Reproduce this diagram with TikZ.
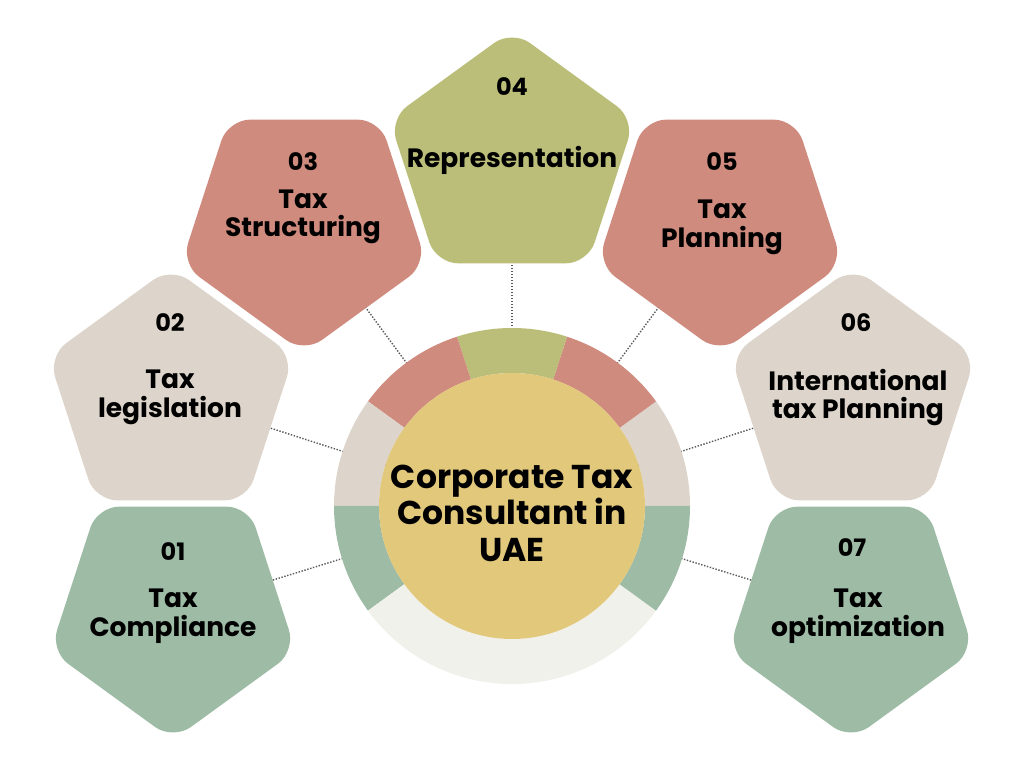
\documentclass[tikz,border=0pt]{standalone}
\usepackage{fontspec}
\setmainfont{Poppins}
\usetikzlibrary{shapes.geometric,backgrounds}
\definecolor{cgreen}{HTML}{9DBBA5}
\definecolor{cbeige}{HTML}{DDD5CB}
\definecolor{cred}{HTML}{D08B7F}
\definecolor{colive}{HTML}{BBBE78}
\definecolor{clight}{HTML}{F0F1EA}
\definecolor{cyellow}{HTML}{E2C87B}
\begin{document}
\begin{tikzpicture}[x=1pt,y=1pt,
  pent/.style={regular polygon, regular polygon sides=5, minimum size=258pt, inner sep=0pt, rounded corners=22pt, draw=none},
  pentdown/.style={pent, shape border rotate=180},
  conn/.style={line width=1.4pt, dash pattern=on 1.4pt off 1.6pt, color=black!65},
  num/.style={font=\fontsize{24}{24}\selectfont\bfseries, inner sep=0pt},
  lab/.style={font=\fontsize{26.5}{28.5}\selectfont\bfseries, align=center, inner sep=0pt},
  ctr/.style={font=\fontsize{33}{36.5}\selectfont\bfseries, align=center, inner sep=0pt},
]
\useasboundingbox (0,0) rectangle (1024,768);
% ring
\begin{scope}[shift={(512,262)}]
\foreach \a/\b/\c in {0/36/cbeige,36/72/cred,72/108/colive,108/144/cred,144/180/cbeige,180/216/cgreen,216/324/clight,324/360/cgreen}
  \fill[\c] (\a:178) arc[start angle=\a, end angle=\b, radius=178] -- (\b:133) arc[start angle=\b, end angle=\a, radius=133] -- cycle;
\end{scope}
\node[circle, fill=cyellow, minimum size=266pt, inner sep=0pt] (c) at (512,262) {};
\node[ctr] (ct) at (512,255) {Corporate Tax\\Consultant in\\UAE};
% pentagons
\node[pentdown, fill=cgreen] (p1) at (173,157) {};
\node[pent, fill=cbeige] (p2) at (171,372) {};
\node[pentdown, fill=cred] (p3) at (304,544) {};
\node[pent, fill=colive] (p4) at (512,609) {};
\node[pentdown, fill=cred] (p5) at (720,544) {};
\node[pent, fill=cbeige] (p6) at (853,372) {};
\node[pentdown, fill=cgreen] (p7) at (851,157) {};
% texts
\node[num] (n1) at (173,216) {01};
\node[lab] (t1) at (173,152) {Tax\\Compliance};
\node[num] (n2) at (170,445) {02};
\node[lab] (t2) at (170,370.5) {Tax\\legislation};
\node[num] (n3) at (303,606) {03};
\node[lab] (t3) at (303,551) {Tax\\Structuring};
\node[num] (n4) at (512,681) {04};
\node[lab] (t4) at (512,608) {Representation};
\node[num] (n5) at (722,606) {05};
\node[lab] (t5) at (722,540.5) {Tax\\Planning};
\node[num] (n6) at (856,445) {06};
\node[lab] (t6) at (858,370.5) {International\\tax Planning};
\node[num] (n7) at (852,220) {07};
\node[lab] (t7) at (858,152) {Tax\\optimization};
% connectors
\begin{scope}[on background layer]
\fill[white] (0,0) rectangle (1024,768);
\foreach \p in {p1,p2,p3,p4,p5,p6,p7}
  \draw[conn] (c.center) -- (\p.center);
\end{scope}
\end{tikzpicture}
\end{document}
